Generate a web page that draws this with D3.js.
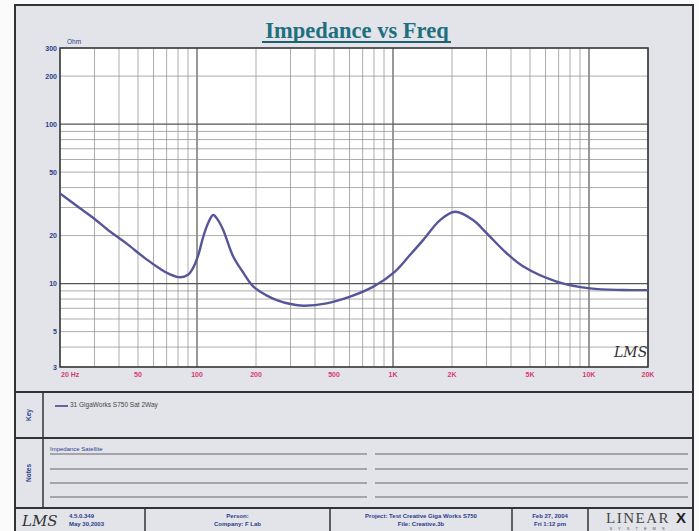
<!DOCTYPE html>
<html>
<head>
<meta charset="utf-8">
<script src="https://cdn.jsdelivr.net/npm/d3@7"></script>
<style>
  html, body { margin: 0; padding: 0; background: #fbfbfb; }
  svg { display: block; }
</style>
</head>
<body>
<svg id="chart" width="699" height="531"></svg>
<script>
// measured impedance curve (Hz, Ohm)
const freqHz = [20, 25, 29.6, 36, 43.8, 54, 64.8, 72, 81.9, 90, 95.7, 101, 107.7, 114, 121, 128, 136, 153,
  170, 194, 225, 255, 300, 349, 459, 604, 794, 1024, 1220, 1428, 1738, 2071, 2570, 2836, 3126, 3800, 4624,
  6840, 10120, 14960, 20000];
const impedanceOhm = [36.8, 30.0, 25.8, 21.2, 17.8, 14.5, 12.4, 11.5, 10.95, 11.35, 12.6, 14.8, 19.7, 24.0, 26.9, 25.0, 21.7, 14.8,
  12.0, 9.57, 8.47, 7.89, 7.45, 7.27, 7.52, 8.28, 9.57, 11.9, 15.1, 18.8, 25.0, 28.2, 25.0, 22.3, 19.7, 15.5, 12.8,
  10.3, 9.33, 9.12, 9.1];

const xLabelValues = [20, 50, 100, 200, 500, 1000, 2000, 5000, 10000, 20000];
const xLabels = ["20  Hz", "50", "100", "200", "500", "1K", "2K", "5K", "10K", "20K"];
const yLabelValues = [3, 5, 10, 20, 50, 100, 200, 300];
const yLabels = ["3", "5", "10", "20", "50", "100", "200", "300"];

const legendText = "31  GigaWorks S750 Sat 2Way";
const notesTitle = "Impedance Satellite";
const footerCells = [
  ["Person:", "Company: F Lab"],
  ["Project: Test Creative Giga Works S750", "File: Creative.3b"],
  ["Feb 27, 2004", "Fri 1:12 pm"]
];

const svg = d3.select("#chart");
const blue = "#2b3c8c";
const frameBg = "#e3e4e9";

// outer frame
svg.append("rect")
  .attr("x", 15).attr("y", 5).attr("width", 678).attr("height", 540)
  .attr("fill", frameBg).attr("stroke", "#333").attr("stroke-width", 2);

// plot area
const plot = { left: 60, right: 648, top: 48, bottom: 367 };
const x = d3.scaleLog().domain([20, 20000]).range([plot.left, plot.right]);
const y = d3.scaleLog().domain([3, 300]).range([plot.bottom, plot.top]);

svg.append("rect")
  .attr("x", plot.left).attr("y", plot.top)
  .attr("width", plot.right - plot.left).attr("height", plot.bottom - plot.top)
  .attr("fill", "#fff");

// grid lines, 1..9 per decade
const xGrid = [];
for (let d = 10; d <= 10000; d *= 10) {
  for (let m = 1; m <= 9; m++) {
    const v = d * m;
    if (v >= 20 && v <= 20000) xGrid.push(v);
  }
}
xGrid.push(20000);
const yGrid = [];
for (let d = 1; d <= 100; d *= 10) {
  for (let m = 1; m <= 9; m++) {
    const v = d * m;
    if (v >= 3 && v <= 300) yGrid.push(v);
  }
}

const isMajor = (v) => Math.abs(Math.log10(v) - Math.round(Math.log10(v))) < 1e-9;

svg.append("g")
  .selectAll("line")
  .data(xGrid)
  .join("line")
  .attr("x1", (d) => x(d)).attr("x2", (d) => x(d))
  .attr("y1", plot.top).attr("y2", plot.bottom)
  .attr("stroke", (d) => (isMajor(d) ? "#555" : "#8a8a8a"))
  .attr("stroke-width", (d) => (isMajor(d) ? 1.2 : 0.7));

svg.append("g")
  .selectAll("line")
  .data(yGrid)
  .join("line")
  .attr("x1", plot.left).attr("x2", plot.right)
  .attr("y1", (d) => y(d)).attr("y2", (d) => y(d))
  .attr("stroke", (d) => (isMajor(d) ? "#555" : "#8a8a8a"))
  .attr("stroke-width", (d) => (isMajor(d) ? 1.2 : 0.7));

// border of the plot
svg.append("rect")
  .attr("x", plot.left).attr("y", plot.top)
  .attr("width", plot.right - plot.left).attr("height", plot.bottom - plot.top)
  .attr("fill", "none").attr("stroke", "#333").attr("stroke-width", 1.5);

// tick labels
svg.append("g")
  .selectAll("text")
  .data(yLabelValues)
  .join("text")
  .attr("x", plot.left - 3)
  .attr("y", (d) => y(d) + 2.5)
  .attr("text-anchor", "end")
  .attr("font-family", "Liberation Sans, Arial, sans-serif")
  .attr("font-size", 7)
  .attr("font-weight", "bold")
  .attr("fill", blue)
  .text((d, i) => yLabels[i]);

svg.append("g")
  .selectAll("text")
  .data(xLabelValues)
  .join("text")
  .attr("x", (d, i) => (i === 0 ? x(d) + 1 : x(d)))
  .attr("y", 377)
  .attr("text-anchor", (d, i) => (i === 0 ? "start" : "middle"))
  .attr("font-family", "Liberation Sans, Arial, sans-serif")
  .attr("font-size", 7)
  .attr("font-weight", "bold")
  .attr("fill", "#d63a6e")
  .text((d, i) => xLabels[i]);

svg.append("text")
  .attr("x", 67).attr("y", 44)
  .attr("font-family", "Liberation Sans, Arial, sans-serif")
  .attr("font-size", 6.5)
  .attr("fill", blue)
  .text("Ohm");

// title
svg.append("text")
  .attr("x", 357).attr("y", 38)
  .attr("text-anchor", "middle")
  .attr("font-family", "Liberation Serif, Times New Roman, serif")
  .attr("font-size", 22.5)
  .attr("font-weight", "bold")
  .attr("fill", "#1f6f80")
  .text("Impedance vs Freq");
svg.append("line")
  .attr("x1", 262).attr("x2", 451).attr("y1", 42).attr("y2", 42)
  .attr("stroke", "#1f5f70").attr("stroke-width", 2);

// the curve
const line = d3.line()
  .x((d, i) => x(freqHz[i]))
  .y((d, i) => y(impedanceOhm[i]))
  .curve(d3.curveCatmullRom.alpha(0.5));

svg.append("path")
  .attr("d", line(freqHz))
  .attr("fill", "none")
  .attr("stroke", "#55569a")
  .attr("stroke-width", 2.4)
  .attr("stroke-linejoin", "round");

// LMS signature in the plot
svg.append("text")
  .attr("x", 614).attr("y", 357)
  .attr("font-family", "DejaVu Serif, serif")
  .attr("font-style", "italic")
  .attr("font-size", 14)
  .attr("fill", "#333")
  .text("LMS");

// section dividers
const hLines = [392, 438, 508];
svg.append("g")
  .selectAll("line")
  .data(hLines)
  .join("line")
  .attr("x1", 15).attr("x2", 693)
  .attr("y1", (d) => d).attr("y2", (d) => d)
  .attr("stroke", "#333").attr("stroke-width", 2);

svg.append("line")
  .attr("x1", 43).attr("x2", 43).attr("y1", 392).attr("y2", 508)
  .attr("stroke", "#333").attr("stroke-width", 1.5);

// side labels
[["Key", 415], ["Notes", 473]].forEach(([t, cy]) => {
  svg.append("text")
    .attr("transform", `translate(31,${cy}) rotate(-90)`)
    .attr("text-anchor", "middle")
    .attr("font-family", "Liberation Sans, Arial, sans-serif")
    .attr("font-size", 6.5)
    .attr("font-weight", "bold")
    .attr("fill", blue)
    .text(t);
});

// key
svg.append("line")
  .attr("x1", 55).attr("x2", 68).attr("y1", 406).attr("y2", 406)
  .attr("stroke", "#3a3a8a").attr("stroke-width", 1.5);
svg.append("text")
  .attr("x", 70).attr("y", 407)
  .attr("font-family", "Liberation Sans, Arial, sans-serif")
  .attr("font-size", 6.5)
  .attr("fill", "#444")
  .text(legendText);

// notes
svg.append("text")
  .attr("x", 50).attr("y", 451)
  .attr("font-family", "Liberation Sans, Arial, sans-serif")
  .attr("font-size", 6)
  .attr("fill", blue)
  .text(notesTitle);
const noteRows = [454, 469, 483, 497];
noteRows.forEach((ny) => {
  svg.append("line")
    .attr("x1", 50).attr("x2", 367).attr("y1", ny).attr("y2", ny)
    .attr("stroke", "#666").attr("stroke-width", 1);
  svg.append("line")
    .attr("x1", 375).attr("x2", 688).attr("y1", ny).attr("y2", ny)
    .attr("stroke", "#666").attr("stroke-width", 1);
});

// footer
const footerSplits = [145, 330, 512, 588];
footerSplits.forEach((fx) => {
  svg.append("line")
    .attr("x1", fx).attr("x2", fx).attr("y1", 508).attr("y2", 531)
    .attr("stroke", "#333").attr("stroke-width", 1.5);
});

svg.append("text")
  .attr("x", 22).attr("y", 526)
  .attr("font-family", "DejaVu Serif, serif")
  .attr("font-style", "italic")
  .attr("font-size", 15)
  .attr("fill", "#333")
  .text("LMS");
svg.append("text")
  .attr("x", 69).attr("y", 518)
  .attr("font-family", "Liberation Sans, Arial, sans-serif")
  .attr("font-size", 6).attr("font-weight", "bold")
  .attr("fill", blue)
  .text("4.5.0.349");
svg.append("text")
  .attr("x", 69).attr("y", 526)
  .attr("font-family", "Liberation Sans, Arial, sans-serif")
  .attr("font-size", 6).attr("font-weight", "bold")
  .attr("fill", blue)
  .text("May 30,2003");

footerCells.forEach((cell, i) => {
  const cx = (footerSplits[i] + footerSplits[i + 1]) / 2;
  cell.forEach((t, j) => {
    svg.append("text")
      .attr("x", cx).attr("y", 518 + j * 8)
      .attr("text-anchor", "middle")
      .attr("font-family", "Liberation Sans, Arial, sans-serif")
      .attr("font-size", 6).attr("font-weight", "bold")
      .attr("fill", blue)
      .text(t);
  });
});

svg.append("text")
  .attr("x", 638).attr("y", 523)
  .attr("text-anchor", "middle")
  .attr("font-family", "Liberation Serif, serif")
  .attr("font-size", 15)
  .attr("letter-spacing", 1.5)
  .attr("fill", "#444")
  .text("LINEAR");
svg.append("text")
  .attr("x", 676).attr("y", 523)
  .attr("font-family", "Liberation Sans, Arial, sans-serif")
  .attr("font-size", 15).attr("font-weight", "bold")
  .attr("fill", "#222")
  .text("X");
svg.append("text")
  .attr("x", 640).attr("y", 530)
  .attr("text-anchor", "middle")
  .attr("font-family", "Liberation Sans, Arial, sans-serif")
  .attr("font-size", 4)
  .attr("letter-spacing", 6)
  .attr("fill", "#555")
  .text("SYSTEMS");
</script>
</body>
</html>
